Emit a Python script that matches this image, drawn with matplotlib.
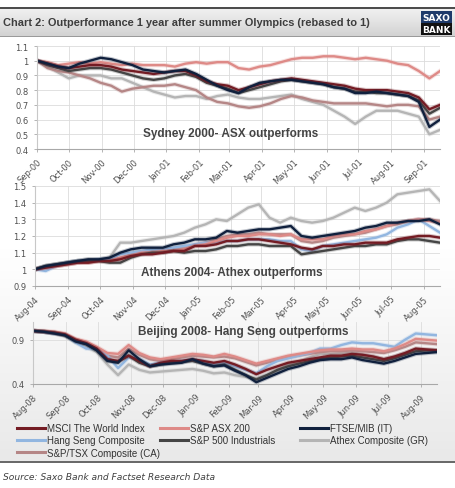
import numpy as np
import pandas as pd
import matplotlib
matplotlib.use('Agg')
import matplotlib.pyplot as plt
import matplotlib.dates as mdates
import matplotlib.patheffects as pe
from matplotlib.lines import Line2D
from matplotlib.patches import Rectangle
from matplotlib.colors import LinearSegmentedColormap

# series (legend order)
names = ['MSCI The World Index', 'S&P ASX 200', 'FTSE/MIB (IT)',
         'Hang Seng Composite', 'S&P 500 Industrials', 'Athex Composite (GR)',
         'S&P/TSX Composite (CA)']
colors = ['#741c24', '#de8a87', '#10203d', '#92b6e0', '#454545', '#b5b5b5', '#b58686']

# Sydney 2000, one value every 10 days from 1 Sep 2000
syd_msci = [1.00, 0.98, 0.96, 0.95, 0.96, 0.97, 0.97, 0.96, 0.94, 0.93, 0.92, 0.91, 0.92,
            0.93, 0.93, 0.90, 0.86, 0.84, 0.83, 0.80, 0.82, 0.84, 0.86, 0.87, 0.88, 0.87,
            0.86, 0.85, 0.84, 0.83, 0.81, 0.80, 0.80, 0.80, 0.79, 0.78, 0.75, 0.67, 0.70]
syd_asx = [1.00, 0.99, 0.97, 0.98, 0.99, 0.98, 0.99, 0.98, 0.97, 0.98, 0.97, 0.97, 0.97,
           0.96, 0.98, 0.99, 0.98, 0.99, 0.99, 0.95, 0.94, 0.96, 0.97, 0.99, 1.01, 1.02,
           1.02, 1.03, 1.03, 1.02, 1.01, 1.02, 1.01, 1.00, 0.98, 0.97, 0.93, 0.88, 0.93]
syd_ftse = [1.00, 0.98, 0.96, 0.95, 0.98, 1.00, 1.02, 1.01, 0.99, 0.97, 0.94, 0.93, 0.92,
            0.93, 0.94, 0.91, 0.87, 0.83, 0.80, 0.78, 0.82, 0.85, 0.86, 0.87, 0.87, 0.86,
            0.85, 0.84, 0.82, 0.81, 0.78, 0.78, 0.79, 0.78, 0.77, 0.76, 0.72, 0.55, 0.60]
syd_sp = [1.00, 0.97, 0.95, 0.93, 0.94, 0.95, 0.95, 0.94, 0.92, 0.90, 0.88, 0.87, 0.88,
          0.90, 0.91, 0.89, 0.85, 0.83, 0.81, 0.78, 0.80, 0.82, 0.84, 0.86, 0.87, 0.86,
          0.85, 0.84, 0.82, 0.81, 0.79, 0.79, 0.78, 0.78, 0.77, 0.76, 0.73, 0.64, 0.68]
syd_athex = [1.00, 0.96, 0.92, 0.88, 0.90, 0.90, 0.90, 0.88, 0.88, 0.85, 0.82, 0.79, 0.77,
             0.75, 0.76, 0.76, 0.74, 0.76, 0.77, 0.75, 0.74, 0.74, 0.75, 0.76, 0.77, 0.74,
             0.72, 0.70, 0.66, 0.62, 0.57, 0.62, 0.66, 0.66, 0.66, 0.64, 0.62, 0.50, 0.53]
syd_tsx = [1.00, 0.95, 0.93, 0.92, 0.90, 0.88, 0.85, 0.83, 0.79, 0.81, 0.82, 0.83, 0.83,
           0.84, 0.82, 0.80, 0.75, 0.72, 0.71, 0.69, 0.68, 0.69, 0.71, 0.74, 0.76, 0.75,
           0.73, 0.72, 0.71, 0.71, 0.71, 0.71, 0.70, 0.69, 0.70, 0.70, 0.69, 0.60, 0.62]

# Athens 2004, every 10 days from 1 Aug 2004
ath_msci = [1.00, 1.01, 1.02, 1.03, 1.04, 1.04, 1.05, 1.05, 1.06, 1.08, 1.09, 1.09, 1.10,
            1.11, 1.11, 1.14, 1.14, 1.15, 1.17, 1.17, 1.18, 1.18, 1.17, 1.16, 1.15, 1.13,
            1.12, 1.14, 1.14, 1.15, 1.15, 1.16, 1.16, 1.16, 1.18, 1.19, 1.20, 1.20, 1.19]
ath_asx = [1.00, 1.01, 1.02, 1.03, 1.04, 1.04, 1.05, 1.05, 1.07, 1.08, 1.10, 1.10, 1.11,
           1.11, 1.12, 1.14, 1.15, 1.17, 1.19, 1.20, 1.20, 1.21, 1.21, 1.20, 1.21, 1.18,
           1.18, 1.18, 1.20, 1.21, 1.21, 1.23, 1.24, 1.26, 1.28, 1.29, 1.30, 1.29, 1.28]
ath_ftse = [1.00, 1.02, 1.03, 1.04, 1.05, 1.06, 1.06, 1.07, 1.10, 1.12, 1.13, 1.13, 1.13,
            1.15, 1.16, 1.18, 1.18, 1.19, 1.23, 1.22, 1.23, 1.24, 1.24, 1.25, 1.26, 1.20,
            1.19, 1.20, 1.21, 1.22, 1.23, 1.25, 1.26, 1.28, 1.28, 1.29, 1.29, 1.30, 1.27]
ath_hs = [1.00, 0.99, 1.02, 1.04, 1.05, 1.05, 1.06, 1.06, 1.09, 1.10, 1.11, 1.12, 1.12,
          1.13, 1.14, 1.15, 1.16, 1.16, 1.17, 1.17, 1.18, 1.18, 1.18, 1.17, 1.17, 1.12,
          1.11, 1.14, 1.15, 1.16, 1.17, 1.18, 1.19, 1.21, 1.25, 1.27, 1.30, 1.26, 1.22]
ath_sp = [1.00, 1.02, 1.03, 1.04, 1.05, 1.05, 1.05, 1.04, 1.04, 1.07, 1.09, 1.10, 1.10,
          1.11, 1.10, 1.11, 1.11, 1.12, 1.14, 1.14, 1.15, 1.15, 1.14, 1.14, 1.14, 1.09,
          1.10, 1.11, 1.12, 1.13, 1.14, 1.14, 1.15, 1.15, 1.17, 1.18, 1.18, 1.17, 1.16]
ath_athex = [1.00, 1.02, 1.03, 1.04, 1.05, 1.06, 1.06, 1.07, 1.16, 1.16, 1.17, 1.18, 1.19,
             1.20, 1.22, 1.25, 1.27, 1.30, 1.29, 1.33, 1.37, 1.39, 1.31, 1.28, 1.31, 1.29,
             1.28, 1.29, 1.31, 1.34, 1.37, 1.35, 1.37, 1.40, 1.45, 1.46, 1.47, 1.48, 1.41]
ath_tsx = [1.00, 1.01, 1.02, 1.03, 1.04, 1.05, 1.05, 1.05, 1.07, 1.09, 1.10, 1.11, 1.12,
           1.12, 1.13, 1.15, 1.16, 1.18, 1.20, 1.21, 1.21, 1.22, 1.21, 1.21, 1.21, 1.17,
           1.16, 1.17, 1.19, 1.20, 1.21, 1.22, 1.24, 1.26, 1.27, 1.29, 1.30, 1.30, 1.29]

# Beijing 2008, every 10 days from 1 Aug 2008
bei_msci = [1.00, 0.99, 0.98, 0.96, 0.90, 0.86, 0.80, 0.68, 0.66, 0.72, 0.66, 0.60, 0.64,
            0.66, 0.66, 0.68, 0.66, 0.64, 0.66, 0.62, 0.57, 0.51, 0.56, 0.60, 0.64, 0.66,
            0.68, 0.70, 0.72, 0.72, 0.74, 0.73, 0.71, 0.68, 0.71, 0.75, 0.80, 0.79, 0.78]
bei_asx = [1.00, 1.00, 0.99, 0.97, 0.91, 0.88, 0.82, 0.75, 0.74, 0.84, 0.75, 0.70, 0.68,
           0.70, 0.72, 0.74, 0.73, 0.71, 0.74, 0.71, 0.67, 0.63, 0.66, 0.69, 0.72, 0.74,
           0.76, 0.78, 0.79, 0.79, 0.80, 0.79, 0.79, 0.77, 0.80, 0.85, 0.91, 0.90, 0.89]
bei_ftse = [1.00, 0.99, 0.97, 0.95, 0.88, 0.85, 0.78, 0.66, 0.64, 0.78, 0.68, 0.60, 0.62,
            0.63, 0.64, 0.68, 0.63, 0.60, 0.61, 0.55, 0.50, 0.42, 0.47, 0.52, 0.57, 0.60,
            0.64, 0.67, 0.68, 0.68, 0.70, 0.67, 0.65, 0.63, 0.66, 0.70, 0.74, 0.75, 0.76]
bei_hs = [1.00, 0.99, 0.97, 0.96, 0.87, 0.80, 0.80, 0.72, 0.58, 0.70, 0.68, 0.62, 0.64,
          0.64, 0.66, 0.67, 0.66, 0.62, 0.64, 0.60, 0.56, 0.52, 0.60, 0.66, 0.69, 0.72,
          0.75, 0.80, 0.80, 0.84, 0.87, 0.86, 0.86, 0.84, 0.82, 0.90, 0.97, 0.96, 0.95]
bei_sp = [1.00, 0.99, 0.98, 0.95, 0.89, 0.85, 0.78, 0.67, 0.65, 0.72, 0.64, 0.60, 0.62,
          0.64, 0.65, 0.66, 0.63, 0.60, 0.62, 0.56, 0.50, 0.45, 0.50, 0.56, 0.60, 0.63,
          0.66, 0.68, 0.70, 0.71, 0.72, 0.70, 0.68, 0.66, 0.69, 0.73, 0.77, 0.78, 0.78]
bei_athex = [1.00, 0.99, 0.97, 0.94, 0.87, 0.82, 0.76, 0.62, 0.50, 0.62, 0.56, 0.53, 0.54,
             0.55, 0.56, 0.57, 0.55, 0.52, 0.53, 0.50, 0.48, 0.46, 0.50, 0.55, 0.62, 0.65,
             0.70, 0.74, 0.74, 0.75, 0.76, 0.73, 0.71, 0.68, 0.71, 0.75, 0.79, 0.78, 0.77]
bei_tsx = [1.00, 0.99, 0.98, 0.96, 0.90, 0.86, 0.80, 0.72, 0.70, 0.80, 0.73, 0.68, 0.66,
           0.68, 0.70, 0.72, 0.71, 0.70, 0.71, 0.69, 0.65, 0.61, 0.64, 0.67, 0.70, 0.72,
           0.74, 0.76, 0.77, 0.77, 0.78, 0.77, 0.76, 0.75, 0.78, 0.82, 0.87, 0.86, 0.85]

panels = [
    ('2000-09-01', [syd_msci, syd_asx, syd_ftse, None, syd_sp, syd_athex, syd_tsx],
     (0.4, 1.1), np.arange(0.4, 1.11, 0.1), 'Sydney 2000- ASX outperforms', (0.48, 0.16)),
    ('2004-08-01', [ath_msci, ath_asx, ath_ftse, ath_hs, ath_sp, ath_athex, ath_tsx],
     (0.9, 1.5), np.arange(0.9, 1.51, 0.1), 'Athens 2004- Athex outperforms', (0.485, 0.14)),
    ('2008-08-01', [bei_msci, bei_asx, bei_ftse, bei_hs, bei_sp, bei_athex, bei_tsx],
     (0.4, 1.1), [0.4, 0.9], 'Beijing 2008- Hang Seng outperforms', (0.52, 0.86)),
]
# pixel boxes (left, top, right, bottom)
boxes = [(37, 47, 440, 150), (35, 187, 440, 287), (33, 323, 437, 385)]
draw_order = [5, 6, 3, 1, 4, 0, 2]

W, H = 455, 489
fig = plt.figure(figsize=(W / 100, H / 100), dpi=100)

# background, header and footer
bg = fig.add_axes([0, 0, 1, 1], zorder=-10)
bg.set_xlim(0, W)
bg.set_ylim(H, 0)
bg.axis('off')
grad = LinearSegmentedColormap.from_list('g', ['#ffffff', '#ffffff', '#e9e9e9'])
bg.imshow(np.linspace(0, 1, 100).reshape(-1, 1), cmap=grad, aspect='auto',
          extent=(0, W, 463, 38), zorder=0)
hdr = LinearSegmentedColormap.from_list('h', ['#f0f0f0', '#e2e2e2', '#d2d2d2'])
bg.imshow(np.linspace(0, 1, 50).reshape(-1, 1), cmap=hdr, aspect='auto',
          extent=(0, W, 37, 10), zorder=0)
bg.add_patch(Rectangle((0, 7.5), W, 2.5, color='#4d4d4d', lw=0))
bg.add_patch(Rectangle((0, 36.5), W, 1.5, color='#9a9a9a', lw=0))
bg.add_patch(Rectangle((0, 462), W, 2, color='#6a6a6a', lw=0))
bg.add_patch(Rectangle((421, 12), 31, 12, color='#1e3a6a', lw=0))
bg.add_patch(Rectangle((421, 24), 31, 12, color='#111111', lw=0))
bg.text(436.5, 18.3, 'SAXO', color='white', fontsize=6.5, fontweight='bold',
        ha='center', va='center', family='DejaVu Sans')
bg.text(436.5, 30.3, 'BANK', color='white', fontsize=6.5, fontweight='bold',
        ha='center', va='center', family='DejaVu Sans')
bg.text(3, 23, 'Chart 2: Outperformance 1 year after summer Olympics (rebased to 1)',
        color='#3d3d3d', fontsize=7.9, fontweight='bold', va='center',
        family='Liberation Sans')
bg.text(3, 478, 'Source: Saxo Bank and Factset Research Data', color='#404040',
        fontsize=6.6, style='italic', va='center', family='DejaVu Sans')

for (start, series, ylim, yticks, note, npos), (l, t, r, b) in zip(panels, boxes):
    ax = fig.add_axes([l / W, 1 - b / H, (r - l) / W, (b - t) / H])
    ax.set_facecolor('none')
    dates = pd.date_range(start, periods=39, freq='10D')
    for i in draw_order:
        if series[i] is None:
            continue
        ax.plot(dates, series[i], color=colors[i], lw=1.7, solid_joinstyle='round',
                path_effects=[pe.Stroke(linewidth=3.2, foreground=colors[i], alpha=0.25),
                              pe.Normal()])
    ax.set_xlim(dates[0], dates[-1])
    ax.set_ylim(*ylim)
    ax.set_yticks(yticks)
    ax.yaxis.set_major_formatter(plt.FuncFormatter(lambda v, p: '%g' % round(v, 2)))
    ax.xaxis.set_major_locator(mdates.MonthLocator())
    ax.xaxis.set_major_formatter(mdates.DateFormatter('%b-%y'))
    ax.grid(True, color='#dcdcdc', lw=0.6)
    ax.set_axisbelow(True)
    for s in ['top', 'right']:
        ax.spines[s].set_visible(False)
    ax.spines['left'].set_color('#c8c8c8')
    ax.spines['bottom'].set_color('#a8a8a8')
    ax.tick_params(labelsize=6, colors='#a8a8a8', labelcolor='#505050', length=2.5, width=0.6)
    for lab in ax.get_xticklabels():
        lab.set_rotation(45)
        lab.set_ha('right')
        lab.set_rotation_mode('anchor')
    ax.text(npos[0], npos[1], note, transform=ax.transAxes, ha='center', va='center',
            fontsize=8.5, fontweight='bold', color='#444444', family='Liberation Sans')

# legend, three columns
cols = [([0, 3, 6], 17), ([1, 4], 160), ([2, 5], 300)]
for idx, x in cols:
    handles = [Line2D([], [], color=colors[i], lw=2.2) for i in idx]
    leg = fig.legend(handles, [names[i] for i in idx], loc='upper left',
                     bbox_to_anchor=(x / W, 1 - 424 / H), frameon=False,
                     prop={'family': 'Liberation Sans', 'size': 7},
                     handlelength=2.9, handletextpad=0.15, labelspacing=0.25,
                     borderpad=0, borderaxespad=0)
    for txt in leg.get_texts():
        txt.set_color('#333333')

fig.savefig('out.png', dpi=100)
